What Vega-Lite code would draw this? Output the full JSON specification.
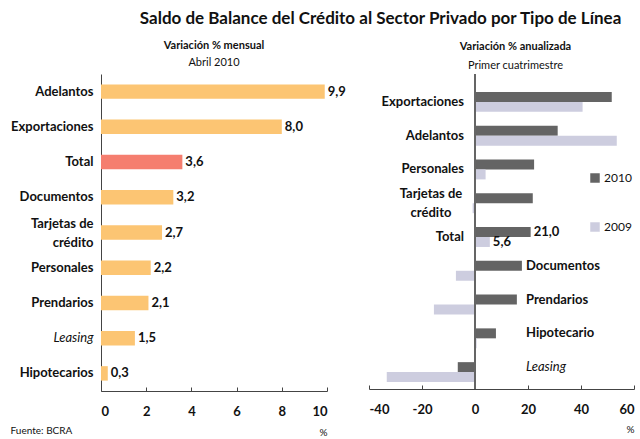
{
  "$schema": "https://vega.github.io/schema/vega-lite/v6.json",
  "padding": {"left": 10, "top": 10, "right": 2, "bottom": 2},
  "config": {
    "font": "Lato",
    "locale": {"number": {"decimal": ",", "thousands": ".", "grouping": [3], "currency": ["$", ""], "minus": "-"}},
    "view": {"stroke": null},
    "axis": {"labelFont": "Lato", "labelFontWeight": "bold", "labelFontSize": 13, "labelColor": "#111", "grid": false, "domainColor": "#444", "tickColor": "#444", "titleFont": "Lato", "titleFontWeight": "normal", "titleFontSize": 10, "titleColor": "#111"},
    "title": {"font": "Lato", "color": "#111", "subtitleFont": "Lato", "subtitleColor": "#111"}
  },
  "datasets": {
    "mensual": [
      {"cat": "Adelantos", "value": 9.9},
      {"cat": "Exportaciones", "value": 8.0},
      {"cat": "Total", "value": 3.6},
      {"cat": "Documentos", "value": 3.2},
      {"cat": "Tarjetas de crédito", "value": 2.7},
      {"cat": "Personales", "value": 2.2},
      {"cat": "Prendarios", "value": 2.1},
      {"cat": "Leasing", "value": 1.5},
      {"cat": "Hipotecarios", "value": 0.3}
    ],
    "anual": [
      {"cat": "Exportaciones", "year": "2010", "value": 51.6},
      {"cat": "Exportaciones", "year": "2009", "value": 40.6},
      {"cat": "Adelantos", "year": "2010", "value": 31.2},
      {"cat": "Adelantos", "year": "2009", "value": 53.5},
      {"cat": "Personales", "year": "2010", "value": 22.3},
      {"cat": "Personales", "year": "2009", "value": 4.0},
      {"cat": "Tarjetas de crédito", "year": "2010", "value": 21.8},
      {"cat": "Tarjetas de crédito", "year": "2009", "value": -0.9},
      {"cat": "Total", "year": "2010", "value": 21.0},
      {"cat": "Total", "year": "2009", "value": 5.6},
      {"cat": "Documentos", "year": "2010", "value": 17.7},
      {"cat": "Documentos", "year": "2009", "value": -7.2},
      {"cat": "Prendarios", "year": "2010", "value": 15.8},
      {"cat": "Prendarios", "year": "2009", "value": -15.5},
      {"cat": "Hipotecario", "year": "2010", "value": 7.9},
      {"cat": "Hipotecario", "year": "2009", "value": 0.6},
      {"cat": "Leasing", "year": "2010", "value": -6.5},
      {"cat": "Leasing", "year": "2009", "value": -33.3}
    ]
  },
  "title": {"text": "Saldo de Balance del Crédito al Sector Privado por Tipo de Línea", "fontSize": 17, "fontWeight": "bold", "anchor": "middle", "dx": 58, "offset": 12},
  "vconcat": [
    {
      "title": {"text": "Fuente: BCRA", "orient": "bottom", "anchor": "start", "fontSize": 10, "fontWeight": "normal", "offset": -11},
      "bounds": "flush",
      "spacing": 42,
      "hconcat": [
        {
          "width": 226,
          "height": 317,
          "title": {"text": "Variación %  mensual", "subtitle": "Abril 2010", "fontSize": 11, "fontWeight": "bold", "subtitleFontSize": 11, "anchor": "middle", "subtitlePadding": 6, "offset": 6},
          "data": {"name": "mensual"},
          "encoding": {
            "y": {"field": "cat", "type": "nominal", "sort": null,
              "scale": {"paddingInner": 0.59, "paddingOuter": 0.295},
              "axis": {"title": null, "ticks": false, "labelPadding": 8, "labelLineHeight": 19,
                "labelExpr": "datum.value === 'Tarjetas de crédito' ? ['Tarjetas de', 'crédito'] : datum.value",
                "labelOffset": {"condition": {"test": "datum.value === 'Tarjetas de crédito'", "value": -9}, "value": 0},
                "labelFontStyle": {"condition": {"test": "datum.value === 'Leasing'", "value": "italic"}, "value": "normal"},
                "labelFontWeight": {"condition": {"test": "datum.value === 'Leasing'", "value": "normal"}, "value": "bold"}}},
            "x": {"field": "value", "type": "quantitative",
              "scale": {"domain": [0, 10], "nice": false},
              "axis": {"title": "%", "titleAnchor": "end", "values": [0, 2, 4, 6, 8, 10], "format": "d", "tickSize": -4, "labelPadding": 18, "titlePadding": 9}}
          },
          "layer": [
            {"mark": {"type": "bar"},
             "encoding": {"color": {"condition": {"test": "datum.cat === 'Total'", "value": "#F57E6F"}, "value": "#FCC573"}}},
            {"mark": {"type": "text", "align": "left", "dx": 3, "fontWeight": "bold", "fontSize": 13, "color": "#111"},
             "encoding": {"text": {"field": "value", "type": "quantitative", "format": ".1f"}}}
          ]
        },
        {
          "width": 265,
          "height": 315,
          "title": {"text": "Variación % anualizada", "subtitle": "Primer cuatrimestre", "fontSize": 11, "fontWeight": "bold", "subtitleFontSize": 11, "anchor": "middle", "subtitlePadding": 8, "offset": 2, "dx": 14},
          "data": {"name": "anual"},
          "layer": [
            {"mark": {"type": "bar"},
             "encoding": {
               "y": {"field": "cat", "type": "nominal", "sort": null,
                 "scale": {"domain": ["Exportaciones", "Adelantos", "Personales", "Tarjetas de crédito", "Total", "Documentos", "Prendarios", "Hipotecario", "Leasing"], "range": [11, 315], "paddingInner": 0.41, "paddingOuter": 0.205},
                 "axis": null},
               "yOffset": {"field": "year", "type": "nominal", "scale": {"domain": ["2010", "2009"], "paddingInner": 0}},
               "x": {"field": "value", "type": "quantitative",
                 "scale": {"domain": [-40, 60], "nice": false},
                 "axis": {"title": "%", "titleAnchor": "end", "values": [-40, -20, 0, 20, 40, 60], "format": "d", "tickSize": -4, "labelPadding": 18, "titlePadding": 8}},
               "color": {"field": "year", "type": "nominal",
                 "scale": {"domain": ["2010", "2009"], "range": ["#646464", "#CDCDDF"]},
                 "legend": {"title": null, "orient": "none", "legendX": 488, "legendY": 98, "symbolType": "square", "symbolSize": 90, "symbolStrokeWidth": 0, "labelFontSize": 12, "labelFont": "Lato", "labelColor": "#111", "rowPadding": 37, "labelOffset": 3}}
             }},
            {"mark": {"type": "rule", "color": "#666", "strokeWidth": 1.5},
             "encoding": {"x": {"datum": 0}}},
            {"transform": [{"filter": "datum.cat === 'Total'"}],
             "mark": {"type": "text", "align": "left", "dx": 3, "fontWeight": "bold", "fontSize": 13, "color": "#111"},
             "encoding": {
               "y": {"field": "cat", "type": "nominal", "sort": null},
               "yOffset": {"field": "year", "type": "nominal"},
               "x": {"field": "value", "type": "quantitative"},
               "text": {"field": "value", "type": "quantitative", "format": ".1f"}}},
            {"transform": [{"filter": "datum.year === '2010' && indexof(['Exportaciones', 'Adelantos', 'Personales', 'Total'], datum.cat) >= 0"}],
             "mark": {"type": "text", "align": "right", "dx": -11, "fontWeight": "bold", "fontSize": 13, "color": "#111"},
             "encoding": {
               "y": {"field": "cat", "type": "nominal", "sort": null},
               "x": {"datum": 0},
               "text": {"field": "cat"}}},
            {"transform": [{"filter": "datum.year === '2010' && datum.cat === 'Tarjetas de crédito'"}],
             "mark": {"type": "text", "align": "center", "dx": -44, "dy": -9, "fontWeight": "bold", "fontSize": 13, "color": "#111", "lineHeight": 19},
             "encoding": {
               "y": {"field": "cat", "type": "nominal", "sort": null},
               "x": {"datum": 0},
               "text": {"value": ["Tarjetas de", "crédito"]}}},
            {"transform": [{"filter": "datum.year === '2010' && indexof(['Documentos', 'Prendarios', 'Hipotecario'], datum.cat) >= 0"}],
             "mark": {"type": "text", "align": "left", "dx": 51, "dy": -5, "fontWeight": "bold", "fontSize": 13, "color": "#111"},
             "encoding": {
               "y": {"field": "cat", "type": "nominal", "sort": null},
               "x": {"datum": 0},
               "text": {"field": "cat"}}},
            {"transform": [{"filter": "datum.year === '2010' && datum.cat === 'Leasing'"}],
             "mark": {"type": "text", "align": "left", "dx": 51, "dy": -5, "fontStyle": "italic", "fontSize": 13, "color": "#111"},
             "encoding": {
               "y": {"field": "cat", "type": "nominal", "sort": null},
               "x": {"datum": 0},
               "text": {"field": "cat"}}}
          ]
        }
      ]
    }
  ]
}
